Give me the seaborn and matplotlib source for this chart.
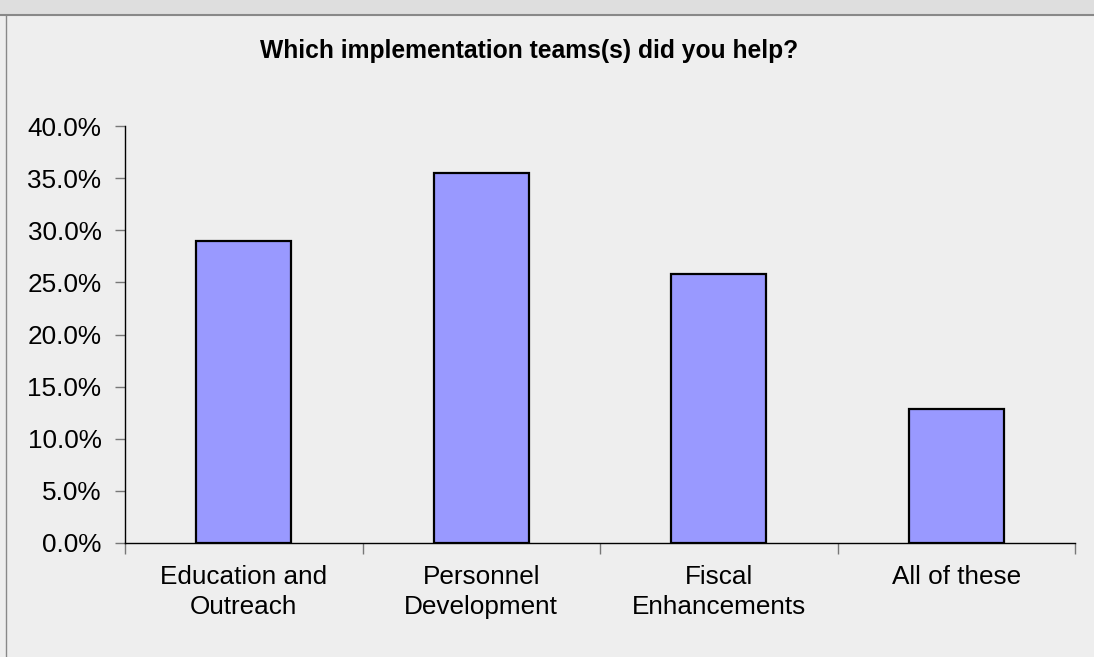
import matplotlib
matplotlib.use("Agg")
import matplotlib.pyplot as plt
import seaborn as sns
import pandas as pd
import numpy as np
from matplotlib.ticker import FuncFormatter, FixedLocator
from matplotlib.lines import Line2D
from matplotlib.patches import Rectangle

categories = ["Education and\nOutreach", "Personnel\nDevelopment", "Fiscal\nEnhancements", "All of these"]
values = [29.0, 35.5, 25.8, 12.9]
title = "Which implementation teams(s) did you help?"
y_ticks = [0, 5, 10, 15, 20, 25, 30, 35, 40]

sns.set_theme(style="white")
plt.rcParams['font.family'] = ['Liberation Sans', 'DejaVu Sans']

bg = "#EEEEEE"
fig = plt.figure(figsize=(10.94, 6.57), dpi=100)
fig.patch.set_facecolor(bg)
W, H = 1094, 657

ax = fig.add_axes([125 / W, 1 - 543 / H, (1075 - 125) / W, (543 - 126) / H])
ax.set_facecolor(bg)

df = pd.DataFrame({"cat": categories, "val": values})
sns.barplot(data=df, x="cat", y="val", color="#9999FF", saturation=1,
            edgecolor="black", linewidth=1.6, width=0.4, ax=ax)

ax.set_xlim(-0.5, len(categories) - 0.5)
ax.set_ylim(0, 40)
ax.set_yticks(y_ticks)
ax.yaxis.set_major_formatter(FuncFormatter(lambda v, p: f"{v:.1f}%"))
ax.set_xlabel("")
ax.set_ylabel("")

for s in ["top", "right"]:
    ax.spines[s].set_visible(False)
for s in ["left", "bottom"]:
    ax.spines[s].set_color("black")
    ax.spines[s].set_linewidth(1.0)

ax.tick_params(axis="y", which="major", direction="out", length=7, width=1,
               color="#777777", labelsize=18.8, labelcolor="black", pad=10, left=True)
ax.tick_params(axis="x", which="major", length=0, labelsize=18.8, labelcolor="black", pad=16)
ax.xaxis.set_minor_locator(FixedLocator(np.arange(-0.5, len(categories), 1.0)))
ax.tick_params(axis="x", which="minor", direction="out", length=8, width=1,
               color="#777777", bottom=True)
for lab in ax.get_xticklabels():
    lab.set_linespacing(1.3)

fig.text(529 / W, 1 - 51 / H, title, ha="center", va="center",
         fontsize=17.7, fontweight="bold", color="black")

# frame: top strip and border lines
fig.patches.append(Rectangle((0, 1 - 14 / H), 1, 14 / H, transform=fig.transFigure,
                             facecolor="#DEDEDE", edgecolor="none", zorder=0))
fig.lines.append(Line2D([0, 1], [1 - 14.5 / H, 1 - 14.5 / H], transform=fig.transFigure,
                        color="#888888", linewidth=1.5))
fig.lines.append(Line2D([5.5 / W, 5.5 / W], [0, 1 - 14.5 / H], transform=fig.transFigure,
                        color="#888888", linewidth=1.0))

fig.savefig("out.png", dpi=100, facecolor=bg)
